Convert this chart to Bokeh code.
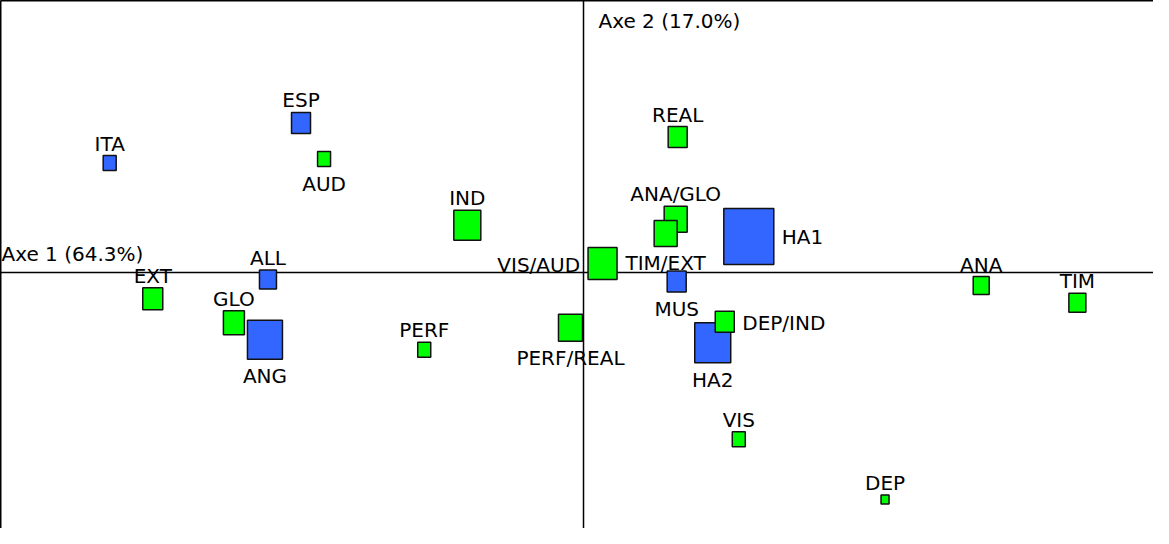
import numpy as np
from bokeh.plotting import figure
from bokeh.models import ColumnDataSource, Range1d, Span, Label, LinearAxis, FixedTicker
from bokeh.core.properties import value
from bokeh.embed import file_html
from bokeh.resources import INLINE

# ---- data (factor coordinates on axes 1 and 2, relative mass) ----
blue_names = ["ITA", "ESP", "ALL", "ANG", "HA1", "MUS", "HA2"]
blue_ax1 = [-0.946, -0.564, -0.630, -0.636, 0.330, 0.186, 0.258]
blue_ax2 = [0.218, 0.298, -0.014, -0.134, 0.072, -0.018, -0.140]
blue_mass = [1.3, 1.9, 1.7, 3.5, 5.0, 1.9, 3.6]
blue_pos = ["above", "above", "above", "below", "right", "below", "below"]

green_names = ["AUD", "IND", "REAL", "ANA/GLO", "TIM/EXT", "VIS/AUD", "EXT", "GLO",
               "PERF", "PERF/REAL", "DEP/IND", "VIS", "ANA", "TIM", "DEP"]
green_ax1 = [-0.518, -0.232, 0.188, 0.184, 0.164, 0.038, -0.860, -0.698,
             -0.318, -0.026, 0.282, 0.310, 0.794, 0.986, 0.602]
green_ax2 = [0.226, 0.094, 0.270, 0.106, 0.078, 0.018, -0.052, -0.100,
             -0.154, -0.110, -0.098, -0.332, -0.026, -0.060, -0.452]
green_mass = [1.3, 2.7, 1.9, 2.3, 2.3, 2.9, 2.0, 2.1,
              1.3, 2.4, 1.9, 1.3, 1.6, 1.7, 0.8]
green_pos = ["below", "above", "above", "above", "below", "left", "above", "above",
             "above", "below", "right", "above", "above", "above", "above"]

axis1_title = "Axe 1 (64.3%)"
axis2_title = "Axe 2 (17.0%)"

# ---- styling ----
FONT = "DejaVu Sans"
FSIZE = "20px"
PX_PER_MASS = 10.0
ASPECT = 1.12
SCALE = 500.0  # px per unit

W, H = 1153, 528
x0_px, y0_px = 592 - 8, 281 - 8       # origin location within canvas
left_px, top_px = 2, 2
x_range = Range1d((left_px - x0_px) / SCALE, (W - x0_px) / SCALE)
y_range = Range1d((y0_px - H) / SCALE, (y0_px - top_px) / SCALE)

p = figure(width=W, height=H, x_range=x_range, y_range=y_range,
           output_backend="svg", toolbar_location=None,
           x_axis_location=None, y_axis_location=None, min_border=0)
p.grid.visible = False
p.outline_line_color = None
p.background_fill_color = "white"
p.border_fill_color = "white"

for loc in ("left", "above"):
    ax = LinearAxis(ticker=FixedTicker(ticks=[]), axis_line_width=2, axis_line_color="black",
                    major_tick_out=0, major_tick_in=0, minor_tick_out=0, minor_tick_in=0,
                    major_label_text_font_size="0px", major_label_standoff=0)
    p.add_layout(ax, loc)

p.add_layout(Span(location=0, dimension="width", line_color="black", line_width=1.5, level="underlay"))
p.add_layout(Span(location=0, dimension="height", line_color="black", line_width=1.5, level="underlay"))


def make_source(names, a1, a2, mass, pos):
    w = np.array(mass) * PX_PER_MASS
    h = np.round(w * ASPECT)
    dx, dy, align, base = [], [], [], []
    for wi, hi, ps in zip(w, h, pos):
        if ps == "above":
            dx.append(0); dy.append(-(hi / 2 + 12)); align.append("center"); base.append("alphabetic")
        elif ps == "below":
            dx.append(0); dy.append(hi / 2 + 5); align.append("center"); base.append("top")
        elif ps == "left":
            dx.append(-(wi / 2 + 8)); dy.append(2); align.append("right"); base.append("middle")
        else:
            dx.append(wi / 2 + 8); dy.append(1); align.append("left"); base.append("middle")
    return ColumnDataSource(dict(x=a1, y=a2, name=names, w=w, h=h,
                                 dx=dx, dy=dy, align=align, base=base))


src_b = make_source(blue_names, blue_ax1, blue_ax2, blue_mass, blue_pos)
src_g = make_source(green_names, green_ax1, green_ax2, green_mass, green_pos)

for src, col in ((src_b, "#3366ff"), (src_g, "#00ff00")):
    p.rect(x="x", y="y", width="w", height="h", width_units="screen", height_units="screen",
           source=src, fill_color=col, line_color="#111111", line_width=1.5)

for src in (src_b, src_g):
    p.text(x="x", y="y", text="name", x_offset="dx", y_offset="dy",
           text_align="align", text_baseline="base", source=src,
           text_font=value(FONT), text_font_size=FSIZE, text_color="black")

p.add_layout(Label(x=x_range.start, y=0, x_offset=1, y_offset=19, text=axis1_title,
                   text_font=FONT, text_font_size=FSIZE, text_baseline="alphabetic",
                   text_color="black"))
p.add_layout(Label(x=0, y=y_range.end, x_offset=15, y_offset=-20, text=axis2_title,
                   text_font=FONT, text_font_size=FSIZE, text_baseline="alphabetic",
                   text_color="black"))

open("out.html", "w").write(file_html(p, INLINE))
